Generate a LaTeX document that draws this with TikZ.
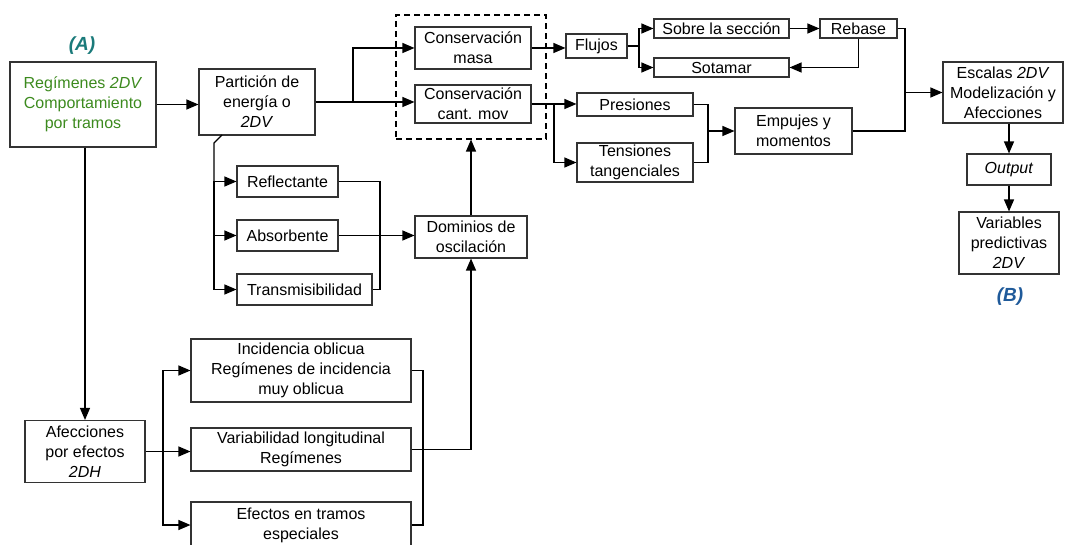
\documentclass[tikz,border=0pt]{standalone}
\usepackage{fontspec}
\setmainfont{Liberation Sans}
\usetikzlibrary{arrows.meta}
\definecolor{labA}{HTML}{1A7A7A}
\definecolor{txtA}{HTML}{3C8A1E}
\definecolor{labB}{HTML}{1F5A9A}
\begin{document}
\begin{tikzpicture}[x=1pt,y=-1pt,
  font=\fontsize{16}{20}\selectfont,
  bx/.style={draw=black!80, line width=1.1pt, inner sep=0pt, align=center},
  ln/.style={line width=1.2pt},
  arr/.style={ln, -{Triangle[length=12pt,width=10pt]}},
  lab/.style={font=\fontsize{19}{22}\selectfont\bfseries\itshape}]
\useasboundingbox (0,0) rectangle (1065,545);

% labels
\node[lab, text=labA] (la) at (82,46) {(A)};
\node[lab, text=labB] (lb) at (1010,297) {(B)};

% boxes
\node[bx, minimum width=146pt, minimum height=85pt, text=txtA] (A) at (83,104.5)
  {Regímenes \textit{2DV}\\Comportamiento\\por tramos};
\node[bx, minimum width=116pt, minimum height=66pt] (P) at (257,102)
  {Partición de\\energía o\\\textit{2DV}};
\node[draw=black, line width=1.1pt, dash pattern=on 6pt off 4pt, minimum width=150pt, minimum height=124pt, inner sep=0pt] (grp) at (471,77) {};
\node[bx, minimum width=116pt, minimum height=42pt] (masa) at (473,48) {Conservación\\masa};
\node[bx, minimum width=116pt, minimum height=38pt] (cant) at (473,104) {Conservación\\cant. mov};
\node[bx, minimum width=61pt, minimum height=24pt] (flu) at (596.5,46) {Flujos};
\node[bx, minimum width=135pt, minimum height=19pt] (sob) at (721.5,28.5) {Sobre la sección};
\node[bx, minimum width=135pt, minimum height=19pt] (sot) at (721.5,67.5) {Sotamar};
\node[bx, minimum width=77pt, minimum height=19pt] (reb) at (858.5,28.5) {Rebase};
\node[bx, minimum width=116pt, minimum height=23pt] (pre) at (635,104.5) {Presiones};
\node[bx, minimum width=116pt, minimum height=39pt] (ten) at (635,162.5) {Tensiones\\tangenciales};
\node[bx, minimum width=117pt, minimum height=46pt] (emp) at (793.5,131) {Empujes y\\momentos};
\node[bx, minimum width=120pt, minimum height=61pt] (esc) at (1003,92.5) {Escalas \textit{2DV}\\Modelización y\\Afecciones};
\node[bx, minimum width=84pt, minimum height=31pt] (out) at (1009,169.5) {\textit{Output}};
\node[bx, minimum width=100pt, minimum height=62pt] (var) at (1009,243) {Variables\\predictivas\\\textit{2DV}};
\node[bx, minimum width=101pt, minimum height=31pt] (ref) at (287.5,181.5) {Reflectante};
\node[bx, minimum width=101pt, minimum height=31pt] (abs) at (287.5,235.5) {Absorbente};
\node[bx, minimum width=135pt, minimum height=31pt] (tra) at (304.5,289.5) {Transmisibilidad};
\node[bx, minimum width=112pt, minimum height=42pt] (dom) at (471,237) {Dominios de\\oscilación};
\node[bx, minimum width=120pt, minimum height=62pt] (afe) at (85,451.5) {Afecciones\\por efectos\\\textit{2DH}};
\node[bx, minimum width=220pt, minimum height=63pt] (inc) at (301,370.5) {Incidencia oblicua\\Regímenes de incidencia\\muy oblicua};
\node[bx, minimum width=220pt, minimum height=43pt] (vlo) at (301,449.5) {Variabilidad longitudinal\\Regímenes};
\node[bx, minimum width=220pt, minimum height=46pt] (efe) at (301,525) {Efectos en tramos\\especiales};

% junction coordinates
\coordinate (j1) at (353,102);
\coordinate (j2) at (639,46);
\coordinate (j3) at (905,92.5);
\coordinate (j4) at (554,104);
\coordinate (j5) at (708,131);
\coordinate (d1) at (222,135);
\coordinate (j6) at (214,143);
\coordinate (j7) at (380,181.5);
\coordinate (j8) at (163,451.5);
\coordinate (j9) at (423,370.5);

% connectors
\draw[arr] (A.east) -- (A.east -| P.west);
\draw[arr] (P.east) -- (P.east -| cant.west);
\draw[arr] (j1) |- (masa.west);
\draw[arr] (masa.east) -- (masa.east -| flu.west);
\draw[ln] (flu.east) -- (j2);
\draw[arr] (j2) |- (sob.west);
\draw[arr] (j2) |- (sot.west);
\draw[arr] (sob.east) -- (reb.west);
\draw[arr] (reb.south) |- (sot.east);
\draw[ln] (reb.east) -| (j3 |- emp.east) -- (emp.east);
\draw[arr] (j3) -- (esc.west);
\draw[ln] (cant.east) -- (j4);
\draw[arr] (j4) -- (j4 -| pre.west);
\draw[arr] (j4) |- (ten.west);
\draw[ln] (pre.east) -| (j5 |- ten.east) -- (ten.east);
\draw[arr] (j5) -- (emp.west);
\draw[arr] (out.north |- esc.south) -- (out.north);
\draw[arr] (out.south) -- (var.north);
\draw[ln] (d1) -- (j6) -- (j6 |- ref.west);
\draw[arr] (j6 |- ref.west) -- (ref.west);
\draw[arr] (j6 |- abs.west) -- (abs.west);
\draw[arr] (j6 |- ref.west) |- (tra.west);
\draw[ln] (ref.east) -| (j7 |- tra.east) -- (tra.east);
\draw[arr] (abs.east) -- (abs.east -| dom.west);
\draw[arr] (dom.north) -- (dom.north |- grp.south);
\draw[arr] (afe.north |- A.south) -- (afe.north);
\draw[arr] (afe.east) -- (afe.east -| vlo.west);
\draw[arr] (j8) |- (inc.west);
\draw[arr] (j8) |- (efe.west);
\draw[ln] (inc.east) -| (j9 |- efe.east) -- (efe.east);
\draw[arr] (vlo.east) -| (dom.south);
\end{tikzpicture}
\end{document}
